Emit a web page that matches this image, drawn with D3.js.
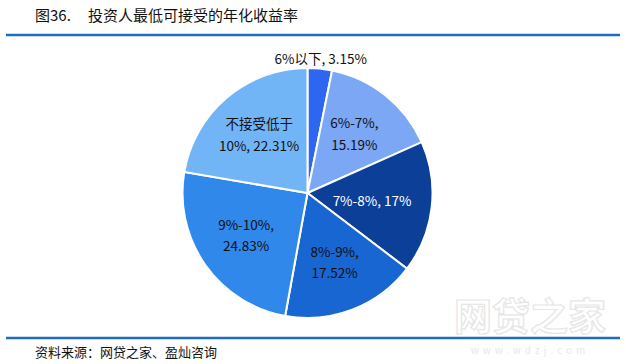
<!DOCTYPE html>
<html><head><meta charset="utf-8">
<script src="https://cdn.jsdelivr.net/npm/d3@7"></script>
<style>body{margin:0;background:#fff}svg{display:block}</style>
</head><body><svg id="c" width="626" height="364"></svg>
<script>
const categories = ["6%以下", "6%-7%", "7%-8%", "8%-9%", "9%-10%", "不接受低于10%"];
const values = [3.15, 15.19, 17, 17.52, 24.83, 22.31];
const colors = ["#2e66f2", "#7ba7f5", "#0b3f98", "#1866d2", "#2f88ea", "#72b5f7"];
const labelColors = ["#111", "#111", "#fff", "#111", "#111", "#111"];
const breakAfter = [null, ", ", null, ", ", ", ", "低于"];
const titleNo = "图36.";
const title = "投资人最低可接受的年化收益率";
const source = "资料来源：网贷之家、盈灿咨询";

const svg = d3.select("#c");
const font = "'Noto Sans CJK SC', 'Microsoft YaHei', sans-serif";
svg.append("text").attr("x", 35).attr("y", 21).attr("font-family", font).attr("font-size", 15).attr("fill", "#111").text(titleNo);
svg.append("text").attr("x", 88).attr("y", 21).attr("font-family", font).attr("font-size", 15).attr("fill", "#111").text(title);
svg.append("line").attr("x1", 6).attr("x2", 620).attr("y1", 35).attr("y2", 35).attr("stroke", "#1f6cc0").attr("stroke-width", 2.5);
svg.append("line").attr("x1", 6).attr("x2", 620).attr("y1", 338).attr("y2", 338).attr("stroke", "#1f6cc0").attr("stroke-width", 2.5);
svg.append("text").attr("x", 35).attr("y", 357).attr("font-family", font).attr("font-size", 13).attr("fill", "#111").text(source);

// watermark
svg.append("text").attr("x", 530).attr("y", 330).attr("text-anchor", "middle").attr("font-family", font).attr("font-size", 38).attr("font-weight", "bold")
  .attr("fill", "none").attr("stroke", "#e6e6e6").attr("stroke-width", 1.2).text("网贷之家");
svg.append("text").attr("x", 530).attr("y", 354).attr("text-anchor", "middle").attr("font-family", font).attr("font-size", 10)
  .attr("fill", "#e8e8e8").attr("letter-spacing", 4).text("www.wdzj.com");

const cx = 307.5, cy = 193, r = 125;
const g = svg.append("g").attr("transform", `translate(${cx},${cy})`);
const data = categories.map((c, i) => ({c, v: values[i], i}));
const pie = d3.pie().value(d => d.v).sort(null);
const arcs = pie(data);
const arc = d3.arc().innerRadius(0).outerRadius(r);
g.selectAll("path").data(arcs).join("path").attr("d", arc)
  .attr("fill", d => colors[d.data.i]).attr("stroke", "#fff").attr("stroke-width", 2);

const labelArc = d3.arc().innerRadius(r * 0.6).outerRadius(r * 0.6);
const outArc = d3.arc().innerRadius(r * 1.07).outerRadius(r * 1.07);
arcs.forEach((a, k) => {
  const d = a.data;
  const full = `${d.c}, ${d.v}%`;
  let lines = [full];
  const b = breakAfter[d.i];
  if (b) { const p = full.indexOf(b) + b.length; lines = [full.slice(0, p).trim(), full.slice(p).trim()]; }
  const outside = d.v < 5;
  let [x, y] = outside ? outArc.centroid(a) : labelArc.centroid(a);
  if (!outside && lines.length === 1) x -= 10;
  const lh = 21.5;
  const t = g.append("text").attr("text-anchor", "middle").attr("font-family", font).attr("font-size", 13.5)
    .attr("fill", labelColors[d.i]);
  lines.forEach((ln, j) => {
    t.append("tspan").attr("x", x).attr("y", y + (j - (lines.length - 1) / 2) * lh + 4.5).text(ln);
  });
});
</script></body></html>
